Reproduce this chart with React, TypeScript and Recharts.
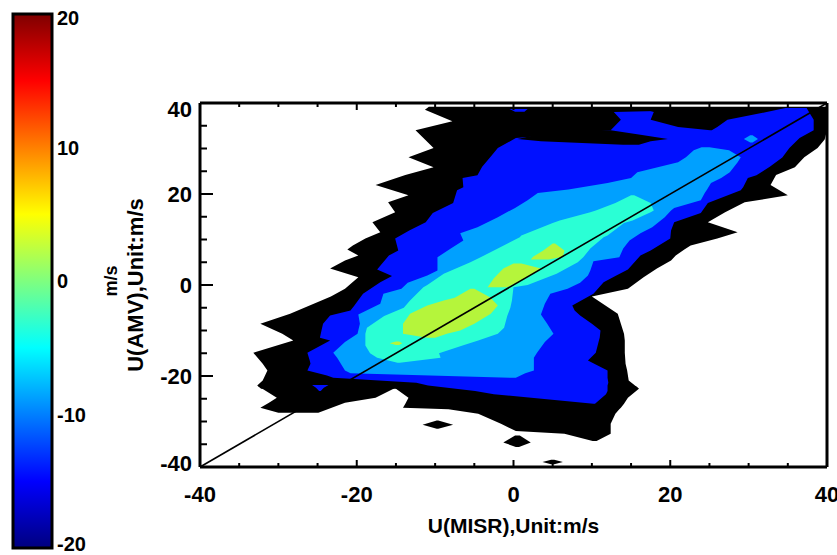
import React from "react";
import {
  Area,
  Bar,
  BarChart,
  ComposedChart,
  ReferenceLine,
  XAxis,
  YAxis,
} from "recharts";

// Contour bands of the MISR / AMV wind comparison.
// Each row is [y, left x, right x]: one horizontal slice of a filled level.
type Row = [number, number, number];

const axisTicks = [-40, -35, -30, -25, -20, -15, -10, -5, 0, 5, 10, 15, 20, 25, 30, 35, 40];
const colorbarTicks = [-20, -10, 0, 10, 20];
const colorbarRange = [{ name: "m/s", range: [-20, 20] }];

const blackMain: Row[] = [
  [39.2, -10.8, 40],
  [38.5, -11.3, 40],
  [36.0, -7.8, 40],
  [34.0, -12.5, 40],
  [32.0, -11.3, 39.7],
  [30.1, -10.2, 38.8],
  [28.1, -13.4, 37.1],
  [25.9, -10.2, 35.9],
  [24.2, -13.8, 33.5],
  [22.0, -17.6, 32.8],
  [19.7, -13.4, 35.0],
  [18.2, -16.0, 29.5],
  [16.0, -15.1, 27.0],
  [13.8, -18.0, 24.8],
  [11.6, -17.0, 28.6],
  [10.2, -18.9, 26.0],
  [8.7, -20.5, 22.6],
  [7.8, -21.2, 21.8],
  [6.5, -19.8, 20.7],
  [5.4, -21.5, 20.1],
  [3.6, -23.4, 18.3],
  [1.7, -19.8, 16.6],
  [-0.8, -21.5, 14.6],
  [-2.5, -23.3, 10.0],
  [-6.3, -28.5, 13.3],
  [-8.5, -32.3, 13.7],
  [-10.7, -29.5, 14.1],
  [-12.2, -28.1, 14.2],
  [-14.9, -33.2, 14.2],
  [-17.3, -32.0, 14.3],
  [-18.8, -31.4, 14.5],
  [-21.0, -32.0, 14.7],
  [-22.1, -32.7, 15.5],
  [-22.8, -32.2, 16.0],
];

// the lower edge splits into two lobes around a small gap near x = -15
const blackLowLeft: Row[] = [
  [-22.2, -32.6, -14.6],
  [-24.8, -30.2, -17.6],
  [-25.9, -31.2, -21.5],
  [-27.0, -32.3, -23.2],
  [-28.1, -30.0, -24.9],
];

const blackLowRight: Row[] = [
  [-22.2, -15.4, 15.6],
  [-22.8, -15.0, 16.0],
  [-24.8, -13.4, 14.6],
  [-26.1, -13.8, 14.1],
  [-27.0, -14.1, 13.7],
  [-27.3, -8.3, 13.5],
  [-28.3, -4.5, 13.0],
  [-30.5, -1.6, 12.4],
  [-32.1, 0.3, 12.4],
  [-32.7, 6.5, 12.4],
  [-34.3, 10.1, 10.6],
];

const blackIslandA: Row[] = [
  [-29.8, -9.8, -9.6],
  [-30.7, -11.6, -7.7],
  [-31.6, -9.8, -9.6],
];

const blackIslandB: Row[] = [
  [-33.1, 0.2, 0.8],
  [-34.6, -1.3, 2.2],
  [-35.6, 0.3, 0.7],
];

const blackIslandC: Row[] = [
  [-38.4, 4.8, 5.2],
  [-38.9, 3.7, 6.3],
  [-39.4, 4.8, 5.2],
];

const blueMain: Row[] = [
  [38.9, 34.5, 37.4],
  [38.0, 12.8, 37.7],
  [36.3, 13.7, 38.3],
  [34.0, 12.4, 38.3],
  [32.3, 0.3, 36.5],
  [30.1, -2.0, 35.2],
  [28.0, -3.0, 34.3],
  [26.0, -4.0, 32.7],
  [24.1, -4.6, 31.0],
  [23.5, -6.5, 29.9],
  [21.5, -6.4, 29.3],
  [20.8, -7.2, 29.0],
  [18.0, -7.7, 24.8],
  [15.8, -10.3, 23.9],
  [13.8, -11.2, 20.5],
  [12.0, -13.3, 20.1],
  [10.2, -15.1, 20.0],
  [7.6, -14.7, 17.5],
  [6.5, -15.9, 16.2],
  [3.4, -17.4, 14.6],
  [2.0, -15.5, 13.0],
  [0.6, -17.0, 11.5],
  [-1.9, -19.2, 10.2],
  [-4.5, -20.3, 7.5],
  [-5.6, -20.8, 7.8],
  [-6.7, -23.4, 8.5],
  [-8.5, -24.3, 10.0],
  [-10.0, -24.5, 11.1],
  [-11.6, -24.7, 11.0],
  [-12.2, -23.4, 10.9],
  [-14.9, -26.3, 10.5],
  [-16.6, -26.0, 9.5],
  [-17.3, -25.9, 10.3],
  [-18.8, -26.3, 12.0],
  [-19.9, -23.8, 12.0],
  [-20.4, -23.0, 12.0],
  [-21.5, -12.4, 12.1],
  [-22.1, -10.9, 12.0],
  [-23.3, -4.9, 12.0],
  [-24.0, -2.5, 11.8],
  [-26.1, 10.2, 10.4],
];

const blueSliver: Row[] = [
  [38.7, -0.5, 1.8],
  [38.1, 0.2, 1.4],
];

const blueSpeck: Row[] = [
  [-22.0, -25.7, -23.6],
  [-22.6, -25.2, -24.2],
  [-23.3, -24.8, -24.6],
];

// black gaps cutting into the upper blue tongue
const blackNotch: Row[] = [
  [39.0, 16.0, 35.0],
  [38.0, 17.9, 32.3],
  [36.3, 17.5, 27.3],
  [34.7, 21.0, 26.0],
  [34.0, 25.1, 25.3],
];

const blackWedge: Row[] = [
  [34.0, 8.0, 12.4],
  [33.0, 3.0, 16.2],
  [32.1, 0.5, 19.7],
  [31.6, 3.5, 17.5],
  [30.8, 14.0, 16.0],
];

const lightBlue: Row[] = [
  [30.3, 24.0, 25.0],
  [29.6, 23.0, 27.5],
  [28.1, 22.0, 29.0],
  [27.0, 21.0, 28.6],
  [24.8, 15.8, 27.6],
  [23.5, 15.0, 26.5],
  [22.4, 12.0, 25.2],
  [21.0, 7.0, 24.7],
  [20.2, 3.1, 24.4],
  [18.6, 1.8, 23.9],
  [16.9, 0.2, 20.5],
  [16.4, -0.4, 20.1],
  [14.9, -2.0, 19.3],
  [12.7, -4.6, 17.7],
  [11.4, -6.8, 16.2],
  [9.8, -6.4, 14.8],
  [8.0, -8.0, 14.0],
  [6.1, -9.7, 13.5],
  [5.2, -9.7, 10.2],
  [3.2, -9.7, 9.8],
  [2.1, -11.0, 9.5],
  [0.5, -13.5, 8.5],
  [-0.8, -14.3, 6.9],
  [-1.9, -16.6, 4.7],
  [-4.1, -17.0, 4.0],
  [-6.5, -19.8, 3.5],
  [-8.5, -19.6, 4.3],
  [-10.7, -19.9, 5.1],
  [-12.5, -21.5, 4.0],
  [-14.9, -23.0, 3.0],
  [-16.0, -22.5, 2.6],
  [-18.8, -21.5, 2.6],
  [-19.4, -20.8, 1.5],
  [-20.4, 0.0, 0.3],
];

const lightBlueDot: Row[] = [
  [32.9, 30.2, 30.5],
  [32.1, 29.4, 31.2],
  [31.3, 30.2, 30.5],
];

const cyan: Row[] = [
  [19.7, 15.0, 15.4],
  [18.0, 13.0, 17.5],
  [16.4, 10.5, 17.9],
  [16.0, 9.8, 17.5],
  [14.2, 5.9, 15.2],
  [13.6, 5.0, 14.1],
  [10.9, 1.0, 12.0],
  [10.5, 0.8, 11.5],
  [8.0, -2.0, 9.8],
  [6.1, -4.2, 8.9],
  [5.0, -5.5, 8.2],
  [2.5, -8.9, 5.5],
  [0.0, -11.0, 1.8],
  [-0.5, -11.5, 0.0],
  [-3.4, -13.2, -0.2],
  [-5.0, -14.0, -0.4],
  [-6.8, -16.5, -0.8],
  [-9.4, -18.7, -1.2],
  [-10.7, -18.9, -2.0],
  [-12.2, -18.9, -4.5],
  [-13.3, -18.9, -6.5],
  [-15.0, -18.3, -9.5],
  [-16.0, -17.4, -9.3],
  [-17.1, -14.8, -14.5],
];

const yellowLow: Row[] = [
  [-0.8, -5.5, -5.0],
  [-2.8, -7.5, -2.9],
  [-3.4, -8.9, -2.6],
  [-4.5, -11.0, -2.0],
  [-6.3, -13.2, -2.9],
  [-8.5, -14.1, -5.0],
  [-10.0, -14.1, -6.8],
  [-10.7, -14.1, -8.5],
  [-11.6, -11.0, -10.0],
];

const yellowMid: Row[] = [
  [4.7, 0.0, 1.0],
  [3.6, -1.3, 3.5],
  [1.5, -2.5, 1.5],
  [-0.5, -3.3, -0.8],
];

const yellowHigh: Row[] = [
  [9.1, 5.0, 5.3],
  [7.6, 3.8, 6.5],
  [6.2, 2.5, 6.3],
  [5.6, 2.2, 4.5],
];

const yellowSpeck: Row[] = [
  [-12.4, -15.0, -14.6],
  [-12.8, -15.8, -14.2],
  [-13.2, -15.0, -14.6],
];

const BLACK = "#000000";
const BLUE = "#0010ff";
const LIGHT_BLUE = "#00a0ff";
const CYAN = "#2affd5";
const YELLOW = "#b5f53b";

const layers: Array<{ key: string; rows: Row[]; color: string }> = [
  { key: "blackMain", rows: blackMain, color: BLACK },
  { key: "blackLowLeft", rows: blackLowLeft, color: BLACK },
  { key: "blackLowRight", rows: blackLowRight, color: BLACK },
  { key: "blackIslandA", rows: blackIslandA, color: BLACK },
  { key: "blackIslandB", rows: blackIslandB, color: BLACK },
  { key: "blackIslandC", rows: blackIslandC, color: BLACK },
  { key: "blueMain", rows: blueMain, color: BLUE },
  { key: "blueSliver", rows: blueSliver, color: BLUE },
  { key: "blueSpeck", rows: blueSpeck, color: BLUE },
  { key: "blackNotch", rows: blackNotch, color: BLACK },
  { key: "blackWedge", rows: blackWedge, color: BLACK },
  { key: "lightBlue", rows: lightBlue, color: LIGHT_BLUE },
  { key: "lightBlueDot", rows: lightBlueDot, color: LIGHT_BLUE },
  { key: "cyan", rows: cyan, color: CYAN },
  { key: "yellowLow", rows: yellowLow, color: YELLOW },
  { key: "yellowMid", rows: yellowMid, color: YELLOW },
  { key: "yellowHigh", rows: yellowHigh, color: YELLOW },
  { key: "yellowSpeck", rows: yellowSpeck, color: YELLOW },
];

const toBand = (rows: Row[]) => rows.map(([y, lo, hi]) => ({ y, band: [lo, hi] }));

const FONT = "'Liberation Sans', Arial, Helvetica, sans-serif";
const tickText = { fontFamily: FONT, fontWeight: 700, fontSize: 22, fill: "#000" };

const isMajor = (v: number) => Math.abs(v) % 20 === 0;

function BottomTick(props: any) {
  const { x, y, payload } = props;
  const major = isMajor(payload.value);
  return (
    <g>
      <line x1={x} y1={y} x2={x} y2={y - (major ? 7 : 4)} stroke="#000" strokeWidth={2} />
      {major && (
        <text x={x} y={y + 35} textAnchor="middle" {...tickText}>
          {payload.value}
        </text>
      )}
    </g>
  );
}

function TopTick(props: any) {
  const { x, y, payload } = props;
  const major = isMajor(payload.value);
  return <line x1={x} y1={y} x2={x} y2={y + (major ? 7 : 4)} stroke="#000" strokeWidth={2} />;
}

function LeftTick(props: any) {
  const { x, y, payload } = props;
  const v = payload.value;
  const major = isMajor(v);
  const nudge = v === 40 ? 6 : v === -40 ? -4 : 0;
  return (
    <g>
      <line x1={x} y1={y} x2={x + (major ? 13 : 7)} y2={y} stroke="#000" strokeWidth={2} />
      {major && (
        <text x={x - 8} y={y + 8 + nudge} textAnchor="end" {...tickText}>
          {v}
        </text>
      )}
    </g>
  );
}

function RightTick(props: any) {
  const { x, y, payload } = props;
  const major = isMajor(payload.value);
  return <line x1={x} y1={y} x2={x - (major ? 13 : 7)} y2={y} stroke="#000" strokeWidth={2} />;
}

function ColorbarTick(props: any) {
  const { x, y, payload } = props;
  const v = payload.value;
  const nudge = v === 20 ? 4 : v === -20 ? -4 : 0;
  return (
    <text x={x} y={y + 7 + nudge} textAnchor="start" {...tickText} fontSize={20}>
      {v}
    </text>
  );
}

const frameLine = { stroke: "#000", strokeWidth: 3 };

function ColorBar() {
  return (
    <BarChart
      width={170}
      height={555}
      data={colorbarRange}
      margin={{ top: 14, right: 0, bottom: 7, left: 13 }}
      barCategoryGap={0}
    >
      <defs>
        <linearGradient id="jetScale" x1="0" y1="1" x2="0" y2="0">
          <stop offset="0" stopColor="#00007f" />
          <stop offset="0.125" stopColor="#0000ff" />
          <stop offset="0.375" stopColor="#00ffff" />
          <stop offset="0.5" stopColor="#7fff7f" />
          <stop offset="0.625" stopColor="#ffff00" />
          <stop offset="0.875" stopColor="#ff0000" />
          <stop offset="1" stopColor="#7f0000" />
        </linearGradient>
      </defs>
      <XAxis dataKey="name" hide />
      <YAxis
        orientation="right"
        type="number"
        domain={[-20, 20]}
        ticks={colorbarTicks}
        interval={0}
        width={118}
        tickSize={0}
        tickLine={false}
        axisLine={false}
        tickMargin={5}
        tick={(p: any) => <ColorbarTick {...p} />}
        label={{
          value: "m/s",
          angle: -90,
          position: "center",
          style: { fontFamily: FONT, fontWeight: 700, fontSize: 18, fill: "#000" },
        }}
      />
      <Bar
        dataKey="range"
        fill="url(#jetScale)"
        stroke="#000"
        strokeWidth={3}
        isAnimationActive={false}
      />
    </BarChart>
  );
}

export default function App() {
  return (
    <div
      style={{
        position: "absolute",
        left: 0,
        top: 0,
        width: 837,
        height: 555,
        background: "#fff",
        overflow: "hidden",
      }}
    >
      <div style={{ position: "absolute", left: 0, top: 0 }}>
        <ColorBar />
      </div>
      <div style={{ position: "absolute", left: 0, top: 0 }}>
        <ComposedChart
          layout="vertical"
          width={837}
          height={555}
          margin={{ top: 102, right: 9, bottom: 0, left: 70 }}
        >
          <XAxis
            type="number"
            domain={[-40, 40]}
            ticks={axisTicks}
            interval={0}
            allowDataOverflow
            height={88}
            tickSize={0}
            tickMargin={0}
            tickLine={false}
            axisLine={frameLine}
            tick={(p: any) => <BottomTick {...p} />}
            label={{
              value: "U(MISR),Unit:m/s",
              position: "insideBottom",
              offset: 22,
              style: { fontFamily: FONT, fontWeight: 700, fontSize: 21, fill: "#000" },
            }}
          />
          <XAxis
            xAxisId="top"
            orientation="top"
            type="number"
            domain={[-40, 40]}
            ticks={axisTicks}
            interval={0}
            allowDataOverflow
            height={1}
            tickSize={0}
            tickMargin={0}
            tickLine={false}
            axisLine={frameLine}
            tick={(p: any) => <TopTick {...p} />}
          />
          <YAxis
            type="number"
            dataKey="y"
            reversed
            domain={[-40, 40]}
            ticks={axisTicks}
            interval={0}
            allowDataOverflow
            width={130}
            tickSize={0}
            tickMargin={0}
            tickLine={false}
            axisLine={frameLine}
            tick={(p: any) => <LeftTick {...p} />}
            label={{
              value: "U(AMV),Unit:m/s",
              angle: -90,
              position: "center",
              style: { fontFamily: FONT, fontWeight: 700, fontSize: 22, fill: "#000" },
            }}
          />
          <YAxis
            yAxisId="right"
            orientation="right"
            type="number"
            reversed
            domain={[-40, 40]}
            ticks={axisTicks}
            interval={0}
            allowDataOverflow
            width={1}
            tickSize={0}
            tickMargin={0}
            tickLine={false}
            axisLine={frameLine}
            tick={(p: any) => <RightTick {...p} />}
          />
          {layers.map((layer) => (
            <Area
              key={layer.key}
              data={toBand(layer.rows)}
              dataKey="band"
              type="linear"
              fill={layer.color}
              fillOpacity={1}
              stroke="none"
              dot={false}
              activeDot={false}
              isAnimationActive={false}
            />
          ))}
          <ReferenceLine
            segment={[
              { x: -40, y: -40 },
              { x: 40, y: 40 },
            ]}
            stroke="#000"
            strokeWidth={1.6}
          />
        </ComposedChart>
      </div>
    </div>
  );
}
